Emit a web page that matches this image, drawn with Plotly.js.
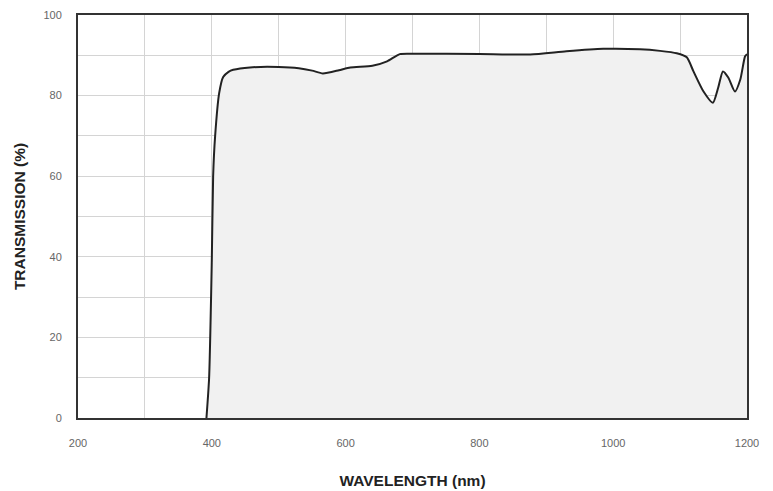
<!DOCTYPE html>
<html>
<head>
<meta charset="utf-8">
<script src="https://cdn.plot.ly/plotly-3.0.1.min.js"></script>
<style>html,body{margin:0;padding:0;background:#fff;}#chart{width:773px;height:491px;}</style>
</head>
<body>
<div id="chart"></div>
<script>
const wavelength = [392, 396, 400, 402, 405, 411, 417, 425, 432, 457, 500, 530, 550, 566, 590, 607, 640, 662, 681, 700, 800, 876, 930, 985, 1040, 1070, 1095, 1110, 1120, 1135, 1149, 1157, 1164, 1172, 1182, 1190, 1197, 1200];
const transmission = [0, 10, 39, 60, 70, 80.6, 84.6, 85.9, 86.4, 87, 87.1, 86.8, 86.2, 85.5, 86.3, 87, 87.4, 88.5, 90.3, 90.4, 90.3, 90.2, 91, 91.6, 91.5, 91.1, 90.5, 89.5, 86, 81, 78.2, 82, 86, 84.5, 81, 84, 89.7, 90.3];
const xTicks = [200, 400, 600, 800, 1000, 1200];
const yTicks = [0, 20, 40, 60, 80, 100];

const trace = {
  x: wavelength, y: transmission, type: 'scatter', mode: 'lines',
  line: {color: '#222', width: 2, shape: 'spline', smoothing: 0.6},
  fill: 'tozeroy', fillcolor: '#f1f1f1', hoverinfo: 'skip'
};
const layout = {
  width: 773, height: 491,
  margin: {l: 78, r: 26, t: 15, b: 73},
  paper_bgcolor: '#fff', plot_bgcolor: '#fff',
  showlegend: false,
  font: {family: 'Liberation Sans, Arial, sans-serif', color: '#666', size: 11},
  xaxis: {
    range: [200, 1200], tickvals: xTicks, ticktext: xTicks.map(String),
    showgrid: true, gridcolor: '#d4d4d4', gridwidth: 1,
    minor: {dtick: 100, showgrid: true, gridcolor: '#d4d4d4', gridwidth: 1},
    dtick: 100, showline: true, linecolor: '#333', linewidth: 2, mirror: true,
    ticks: '', zeroline: false, ticklabelstandoff: 14,
    title: {text: 'WAVELENGTH (nm)', font: {family: 'Liberation Sans, Arial, sans-serif', size: 15.5, color: '#222', weight: 'bold'}, standoff: 27}
  },
  yaxis: {
    range: [0, 100], tickvals: yTicks, ticktext: yTicks.map(String),
    showgrid: true, gridcolor: '#d4d4d4', gridwidth: 1,
    minor: {dtick: 10, showgrid: true, gridcolor: '#d4d4d4', gridwidth: 1},
    showline: true, linecolor: '#333', linewidth: 2, mirror: true,
    ticks: '', zeroline: false, ticklabelstandoff: 12,
    title: {text: 'TRANSMISSION (%)', font: {family: 'Liberation Sans, Arial, sans-serif', size: 15.5, color: '#222', weight: 'bold'}, standoff: 14}
  }
};
Plotly.newPlot('chart', [trace], layout, {staticPlot: true, displayModeBar: false});
</script>
</body>
</html>
